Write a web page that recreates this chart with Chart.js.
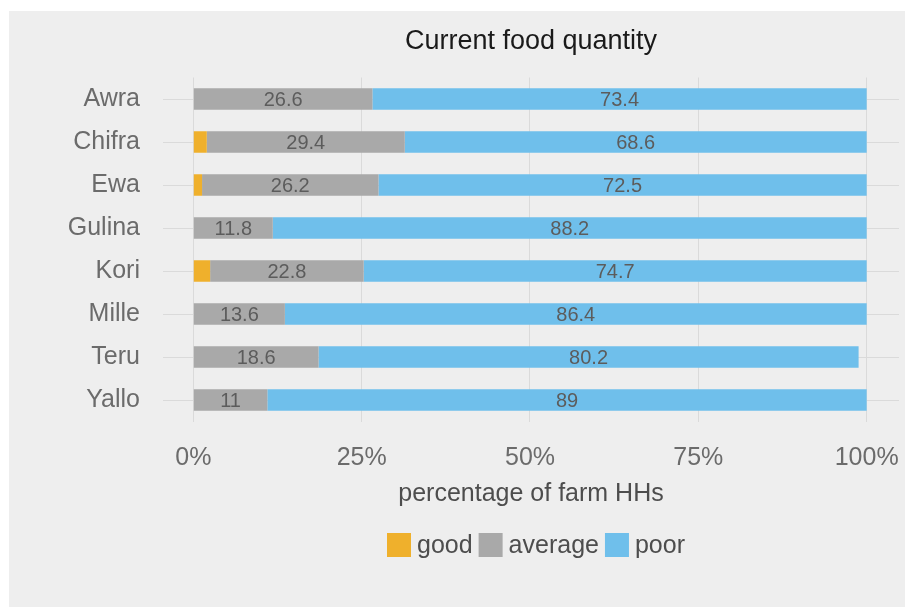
<!DOCTYPE html>
<html>
<head>
<meta charset="utf-8">
<script src="https://cdn.jsdelivr.net/npm/chart.js@4.4.1/dist/chart.umd.min.js"></script>
<style>
  html, body { margin: 0; padding: 0; background: #fff; }
</style>
</head>
<body>
<canvas id="foodChart" width="905" height="607"></canvas>
<script>
const districts = ['Awra', 'Chifra', 'Ewa', 'Gulina', 'Kori', 'Mille', 'Teru', 'Yallo'];
const goodValues = [0, 2.0, 1.3, 0, 2.5, 0, 0, 0];
const averageValues = [26.6, 29.4, 26.2, 11.8, 22.8, 13.6, 18.6, 11];
const poorValues = [73.4, 68.6, 72.5, 88.2, 74.7, 86.4, 80.2, 89];
const xTickValues = [0, 25, 50, 75, 100];
const seriesNames = ['good', 'average', 'poor'];
const seriesColors = ['#efb02c', '#a9a9a9', '#6fbfeb'];

const FONT = "'Liberation Sans', Arial, sans-serif";

// grey panel with the white margin at top / left
const backdrop = {
    id: 'backdrop',
    beforeDraw(chart) {
        const ctx = chart.ctx;
        ctx.save();
        ctx.fillStyle = '#ffffff';
        ctx.fillRect(0, 0, chart.width, chart.height);
        ctx.fillStyle = '#eeeeee';
        ctx.fillRect(9, 11, chart.width - 9, chart.height - 11);
        ctx.restore();
    }
};

// numbers inside the average / poor segments
const valueLabels = {
    id: 'valueLabels',
    afterDatasetsDraw(chart) {
        const ctx = chart.ctx;
        ctx.save();
        ctx.font = '20px ' + FONT;
        ctx.fillStyle = '#5c5c5c';
        ctx.textAlign = 'center';
        ctx.textBaseline = 'middle';
        chart.data.datasets.forEach((ds, i) => {
            if (i === 0) return;
            chart.getDatasetMeta(i).data.forEach((bar, j) => {
                const v = ds.data[j];
                if (!v) return;
                const c = bar.getCenterPoint();
                ctx.fillText(String(v), c.x, c.y + 1);
            });
        });
        ctx.restore();
    }
};

// title and legend centred over the plot panel (ggplot style)
const panelText = {
    id: 'panelText',
    afterDraw(chart) {
        const ctx = chart.ctx;
        const area = chart.chartArea;
        const mid = (area.left + area.right) / 2;
        ctx.save();

        ctx.font = '27px ' + FONT;
        ctx.fillStyle = '#1a1a1a';
        ctx.textAlign = 'center';
        ctx.textBaseline = 'middle';
        ctx.fillText('Current food quantity', mid, 42);

        ctx.font = '25px ' + FONT;
        const box = 24, gap = 6;
        let total = 0;
        seriesNames.forEach((n, i) => {
            total += box + gap + ctx.measureText(n).width;
            if (i < seriesNames.length - 1) total += gap;
        });
        let x = mid + 5 - total / 2;
        const y = 545;
        ctx.textAlign = 'left';
        seriesNames.forEach((n, i) => {
            ctx.fillStyle = seriesColors[i];
            ctx.fillRect(x, y - box / 2, box, box);
            x += box + gap;
            ctx.fillStyle = '#4d4d4d';
            ctx.fillText(n, x, y + 1);
            x += ctx.measureText(n).width + gap;
        });
        ctx.restore();
    }
};

const seriesData = [goodValues, averageValues, poorValues];

new Chart(document.getElementById('foodChart'), {
    type: 'bar',
    data: {
        labels: districts,
        datasets: seriesNames.map((name, i) => ({
            label: name,
            data: seriesData[i],
            backgroundColor: seriesColors[i],
            borderWidth: 0,
            barPercentage: 0.5,
            categoryPercentage: 1.0
        }))
    },
    options: {
        indexAxis: 'y',
        responsive: false,
        animation: false,
        layout: { padding: { top: 77.5, right: 6, bottom: 98, left: 0 } },
        plugins: {
            legend: { display: false },
            title: { display: false },
            tooltip: { enabled: false }
        },
        scales: {
            x: {
                type: 'linear',
                stacked: true,
                min: -4.5,
                max: 104.8,
                afterBuildTicks: s => { s.ticks = xTickValues.map(v => ({ value: v })); },
                afterFit: s => {
                    s.height = 87.5;
                    s.paddingLeft = 0;
                    s.paddingRight = 0;
                },
                grid: { color: '#dadada', drawTicks: false },
                border: { display: false },
                ticks: {
                    callback: v => v + '%',
                    font: { family: FONT, size: 25 },
                    color: '#6b6b6b',
                    padding: 22,
                    maxRotation: 0,
                    autoSkip: false
                },
                title: {
                    display: true,
                    text: 'percentage of farm HHs',
                    font: { family: FONT, size: 25 },
                    color: '#4d4d4d',
                    padding: { top: 0, bottom: 0 }
                }
            },
            y: {
                stacked: true,
                afterFit: s => { s.width = 163; },
                grid: { color: '#dadada', drawTicks: false, offset: false },
                border: { display: false },
                ticks: {
                    font: { family: FONT, size: 25 },
                    color: '#6b6b6b',
                    padding: 23
                }
            }
        }
    },
    plugins: [backdrop, valueLabels, panelText]
});
</script>
</body>
</html>
